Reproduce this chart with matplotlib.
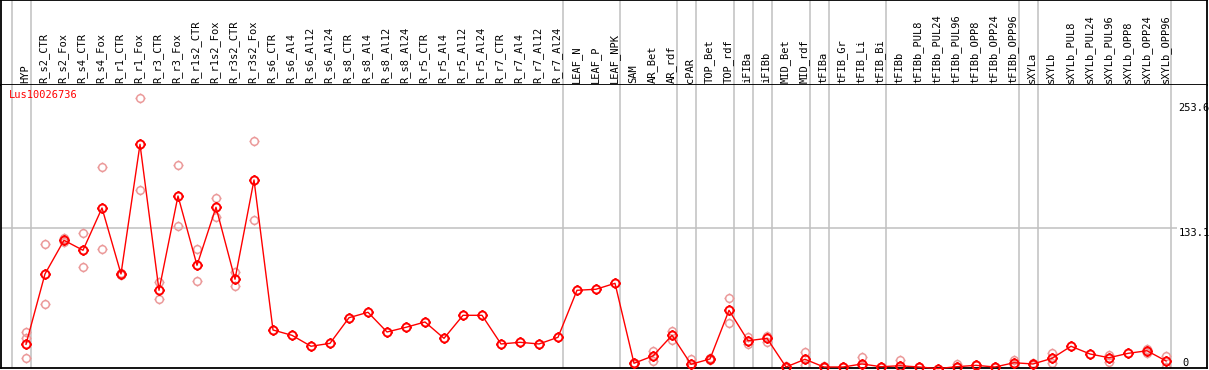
import matplotlib
matplotlib.use("Agg")
import matplotlib.pyplot as plt
from matplotlib.path import Path

# categories (column headers)
samples = ["HYP", "R_s2_CTR", "R_s2_Fox", "R_s4_CTR", "R_s4_Fox", "R_r1_CTR", "R_r1_Fox",
           "R_r3_CTR", "R_r3_Fox", "R_r1s2_CTR", "R_r1s2_Fox", "R_r3s2_CTR", "R_r3s2_Fox",
           "R_s6_CTR", "R_s6_Al4", "R_s6_Al12", "R_s6_Al24", "R_s8_CTR", "R_s8_Al4",
           "R_s8_Al12", "R_s8_Al24", "R_r5_CTR", "R_r5_Al4", "R_r5_Al12", "R_r5_Al24",
           "R_r7_CTR", "R_r7_Al4", "R_r7_Al12", "R_r7_Al24", "LEAF_N", "LEAF_P", "LEAF_NPK",
           "SAM", "AR_Bet", "AR_rdf", "cPAR", "TOP_Bet", "TOP_rdf", "iFIBa", "iFIBb",
           "MID_Bet", "MID_rdf", "tFIBa", "tFIB_Gr", "tFIB_Li", "tFIB_Bi", "tFIBb",
           "tFIBb_PUL8", "tFIBb_PUL24", "tFIBb_PUL96", "tFIBb_OPP8", "tFIBb_OPP24",
           "tFIBb_OPP96", "sXYLa", "sXYLb", "sXYLb_PUL8", "sXYLb_PUL24", "sXYLb_PUL96",
           "sXYLb_OPP8", "sXYLb_OPP24", "sXYLb_OPP96"]

# mean expression
means = [21.8, 89.3, 121.6, 112.0, 152.6, 89.3, 213.7, 73.6, 164.1, 97.6, 153.3, 84.2, 179.5,
         35.5, 30.4, 19.9, 22.7, 47.3, 52.5, 33.6, 38.1, 43.2, 27.5, 49.6, 49.6,
         22.1, 23.7, 22.1, 28.5, 73.6, 74.6, 80.3,
         3.6, 10.6, 30.4, 2.6, 7.7, 54.4, 25.2, 27.5, 0.0, 7.4, 0.0, 0.0, 2.9, 0.3,
         1.2, 0.0, -1.5, 0.3, 1.6, 0.0, 4.1, 2.9, 8.3, 19.9, 12.5, 8.9, 13.1, 15.6, 5.8]

# individual replicates
reps = [[33.9, 27.5, 8.3], [117.8, 60.5], [119.7, 123.5], [128.3, 95.7], [191.7, 113.0],
        [88.5, 90.1], [257.9, 169.9], [81.3, 65.0], [193.6, 135.0], [113.0, 82.5],
        [162.2, 144.2], [91.2, 77.4], [216.9, 140.8],
        [], [], [], [], [], [], [], [], [], [], [], [], [], [], [], [], [], [], [],
        [3.0, 4.2], [15.6, 6.0], [34.8, 25.9], [7.7, 0.0], [8.5, 6.8], [65.9, 41.9],
        [28.5, 21.8], [30.0, 23.7], [0.5, 0.0], [14.4, 1.9], [1.3, 0.0], [0.3],
        [9.6, 0.5], [0.3], [6.7, 0.5], [0.0], [], [2.6, 0.0], [1.6], [0.0],
        [6.7, 1.9], [4.0, 2.0], [13.7, 3.6], [], [], [11.5, 5.1], [], [16.9, 13.1],
        [10.6, 0.3]]

# last column of each group (separator lines drawn after these)
group_ends = [-1, 0, 28, 31, 34, 35, 37, 38, 39, 41, 42, 45, 52, 53, 60]

gene = "Lus10026736"
scale_labels = [253.6, 133.1]

mono = "DejaVu Sans Mono"
red = "#ff0000"
pink = "#eb9a9a"
grey = "#c0c0c0"

# circle with four short ticks
circ = Path.unit_circle()
tl = 1.3
tick_paths = [Path([[0, 1], [0, tl]]), Path([[0, -1], [0, -tl]]),
              Path([[1, 0], [tl, 0]]), Path([[-1, 0], [-tl, 0]])]
target = Path.make_compound_path(circ, *tick_paths)

W, H = 1209, 370
fig = plt.figure(figsize=(W / 100, H / 100), dpi=100)

x0 = -25 / 19
x1 = 1181 / 19
ax_l = 1 / W
ax_w = 1206 / W

ax_head = fig.add_axes([ax_l, 1 - 85 / H, ax_w, 85 / H])
ax = fig.add_axes([ax_l, 2 / H, ax_w, (368 - 85) / H])

for a in (ax_head, ax):
    a.set_xlim(x0, x1)
    a.set_xticks([])
    a.set_yticks([])
    for s in a.spines.values():
        s.set_linewidth(1.3)
        s.set_color("black")
    for b in group_ends:
        a.axvline(b + 0.237, color=grey, lw=1.1, zorder=0)

ax.spines["top"].set_visible(False)
ax_head.set_ylim(0, 1)
ax.set_ylim(-0.96, 270.6)

for i, name in enumerate(samples):
    ax_head.text(i - 0.04, 2 / 85, name, rotation=90, ha="center", va="bottom",
                 fontsize=7.5, family=mono, color="black")

xs = list(range(len(samples)))

# replicates
rx, ry = [], []
for i, r in enumerate(reps):
    for v in r:
        rx.append(i)
        ry.append(v)
ax.plot(rx, ry, ls="none", marker=target, ms=7.2, mfc="none", mec=pink, mew=1.1, zorder=2)

# means
ax.plot(xs, means, color=red, lw=1.0, marker=target, ms=7.5, mfc="none", mec=red,
        mew=1.4, zorder=3, clip_on=False)

ax.hlines(133.1, x0, 60.6, color=grey, lw=1.1, zorder=0)

for v in scale_labels:
    ax.text(60.65, v, f"{v}", ha="left", va="top", fontsize=7.5, family=mono)
ax.text(60.85, 1.0, "0", ha="left", va="baseline", fontsize=7.5, family=mono)

ax.text(-0.9, 265.5, gene, ha="left", va="top", fontsize=7.5, family=mono, color=red)

fig.savefig("out.png", dpi=100)
